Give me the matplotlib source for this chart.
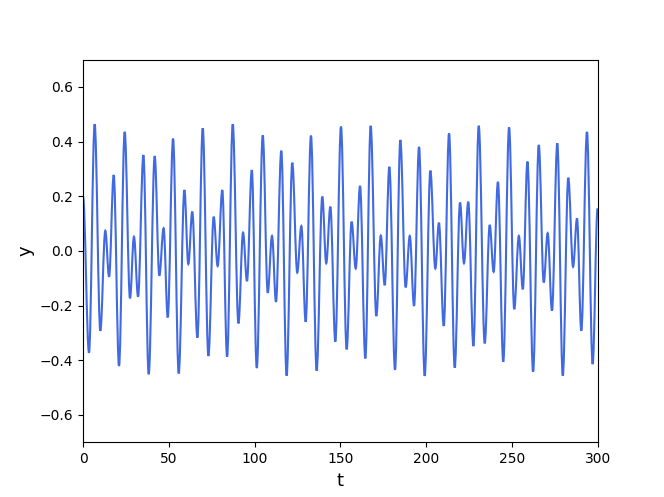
import numpy as np
import matplotlib
matplotlib.use("Agg")
import matplotlib.pyplot as plt
from matplotlib.path import Path
from matplotlib.patches import PathPatch

# picos y valles (t, y)
t = [0.0, 3.5, 6.8, 10.1, 13.0, 15.2, 17.9, 21.0, 24.3, 27.4, 29.7, 32.1,
     35.2, 38.3, 41.8, 44.5, 47.0, 49.4, 52.5, 55.8, 59.1, 61.4, 63.7, 66.7,
     69.8, 73.1, 76.2, 78.5, 81.2, 84.0, 87.3, 90.6, 93.3, 95.6, 98.4, 101.3,
     104.8, 107.7, 110.2, 112.5, 115.6, 118.7, 122.0, 124.9, 127.3, 129.8,
     132.9, 136.2, 139.5, 141.8, 144.2, 147.1, 150.4, 153.7, 156.6, 159.0,
     161.5, 164.6, 167.7, 171.0, 173.6, 175.9, 178.6, 181.9, 185.0, 188.1,
     190.5, 193.0, 195.9, 199.2, 202.5, 205.4, 207.5, 210.3, 213.4, 216.7,
     219.8, 222.1, 224.6, 227.6, 230.7, 234.2, 237.1, 239.4, 241.9, 245.0,
     248.4, 251.4, 254.1, 256.4, 259.1, 262.4, 265.7, 268.6, 270.9, 273.4,
     276.5, 279.7, 282.9, 285.7, 288.0, 290.5, 293.8, 297.1, 300.0]
y = [0.20, -0.372, 0.464, -0.292, 0.074, -0.094, 0.278, -0.421, 0.436, -0.173,
     0.052, -0.167, 0.351, -0.451, 0.347, -0.090, 0.083, -0.243, 0.411, -0.448,
     0.223, -0.048, 0.144, -0.317, 0.449, -0.384, 0.125, -0.055, 0.223, -0.387,
     0.464, -0.265, 0.067, -0.110, 0.296, -0.428, 0.423, -0.153, 0.055, -0.186,
     0.367, -0.456, 0.323, -0.079, 0.091, -0.259, 0.422, -0.438, 0.199, -0.045,
     0.162, -0.332, 0.455, -0.360, 0.107, -0.064, 0.238, -0.393, 0.458, -0.238,
     0.056, -0.125, 0.308, -0.435, 0.406, -0.133, 0.055, -0.201, 0.381, -0.457,
     0.294, -0.064, 0.103, -0.274, 0.430, -0.427, 0.177, -0.045, 0.180, -0.348,
     0.458, -0.338, 0.095, -0.076, 0.253, -0.405, 0.452, -0.213, 0.055, -0.140,
     0.327, -0.442, 0.388, -0.115, 0.065, -0.218, 0.394, -0.456, 0.268, -0.058,
     0.119, -0.292, 0.436, -0.414, 0.156]

fig, ax = plt.subplots(figsize=(6.64, 4.97), dpi=100)

# curva suave entre extremos: tramos Bezier con tangente horizontal en cada extremo
verts = [(t[0], y[0])]
codes = [Path.MOVETO]
for i in range(len(t) - 1):
    dt = t[i + 1] - t[i]
    verts += [(t[i] + 0.364 * dt, y[i]), (t[i + 1] - 0.364 * dt, y[i + 1]), (t[i + 1], y[i + 1])]
    codes += [Path.CURVE4] * 3
ax.add_patch(PathPatch(Path(verts, codes), facecolor="none", edgecolor="royalblue", linewidth=1.5))

ax.set_xlim(0, 300)
ax.set_ylim(-0.7, 0.7)
ax.set_xlabel("t", fontsize=13)
ax.set_ylabel("y", fontsize=13)
fig.savefig("out.png", dpi=100)
